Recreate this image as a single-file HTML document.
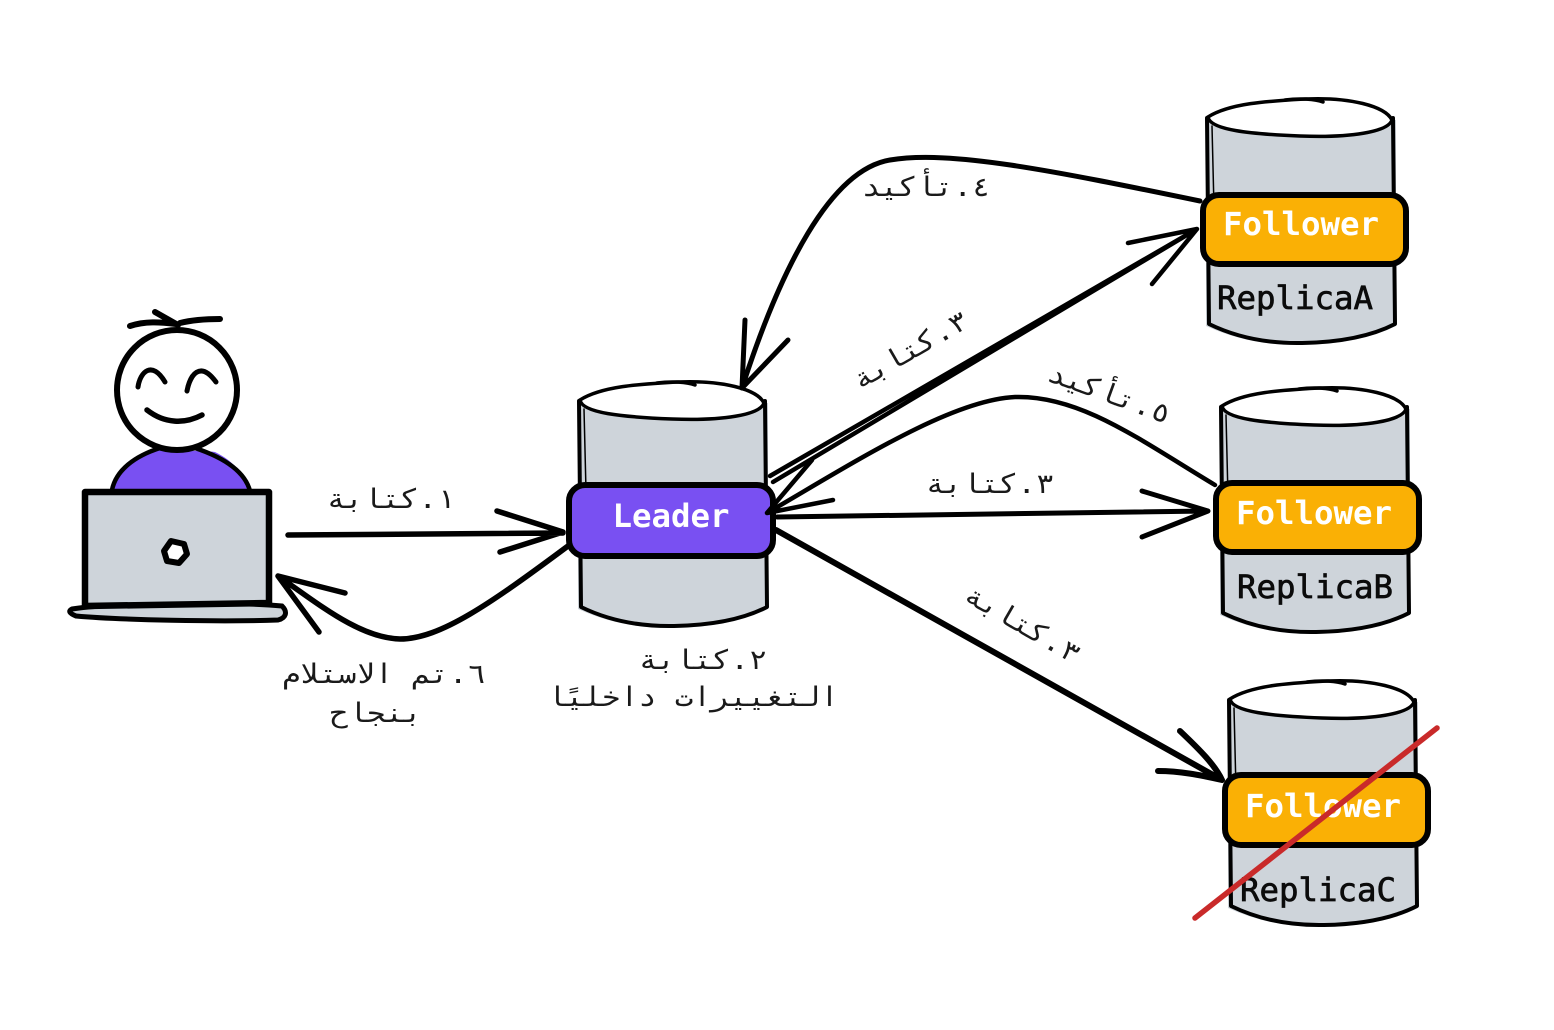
<!DOCTYPE html>
<html><head><meta charset="utf-8"><style>
html,body{margin:0;padding:0;background:#fff}
svg{display:block}
.ar{font-family:"DejaVu Sans Mono","Liberation Mono",monospace;font-size:27px;fill:#1a1a1a;text-anchor:middle;direction:rtl}
.en{font-family:"DejaVu Sans Mono","Liberation Mono",monospace;font-size:32.4px;text-anchor:middle}
.w{fill:#fff;font-weight:bold}
.k{fill:#0b0b0b;font-weight:normal;stroke:#0b0b0b;stroke-width:.7px}
.l{fill:none;stroke:#000;stroke-linecap:round;stroke-linejoin:round}
</style></head><body>
<svg width="1554" height="1030" viewBox="0 0 1554 1030" xmlns="http://www.w3.org/2000/svg">
<rect width="1554" height="1030" fill="#fff"/>
<defs>
<g id="cyl">
<path d="M-94 2V208Q-50 228 2 227Q60 226 96 208V2Z" fill="#ced4da"/>
<path class="l" stroke-width="4" d="M-93 0L-91 206Q-50 226 2 225Q60 224 95 206L93 0"/>
<path class="l" stroke-width="1.5" d="M-88 8L-86 90"/>
<path d="M-92 -1C-70 -15 -30 -17 5 -19C50 -21 85 -12 92 2C88 14 50 20 0 18C-50 16 -90 12 -92 -1Z" fill="#fff" stroke="#000" stroke-width="3.5"/>
<path class="l" stroke-width="3.5" d="M-15 -18C0 -20 15 -19 23 -16"/>
</g>
</defs>

<!-- cylinders -->
<use href="#cyl" x="1300" y="118"/>
<use href="#cyl" x="1314" y="407"/>
<use href="#cyl" x="1322" y="700"/>
<use href="#cyl" x="672" y="401"/>

<!-- bands -->
<rect x="1203" y="195" width="203" height="69" rx="16" fill="#fab005" stroke="#000" stroke-width="6"/>
<rect x="1216" y="483" width="203" height="69" rx="16" fill="#fab005" stroke="#000" stroke-width="6"/>
<rect x="1225" y="775" width="203" height="70" rx="16" fill="#fab005" stroke="#000" stroke-width="6"/>
<rect x="569" y="485" width="204" height="71" rx="16" fill="#7950f2" stroke="#000" stroke-width="6"/>

<!-- node labels -->
<text class="en w" x="1301" y="235">Follower</text>
<text class="en w" x="1314" y="524">Follower</text>
<text class="en w" x="1323" y="817">Follower</text>
<text class="en w" x="671" y="527">Leader</text>
<text class="en k" x="1295" y="309">ReplicaA</text>
<text class="en k" x="1315" y="598">ReplicaB</text>
<text class="en k" x="1318" y="901">ReplicaC</text>

<!-- person -->
<path d="M112 490C116 470 135 456 160 448C180 452 200 450 215 452C235 462 245 475 248 490Z" fill="#7950f2"/>
<path class="l" stroke-width="4.5" d="M112 490C116 470 135 456 160 448M195 448C225 458 245 472 250 491"/>
<ellipse cx="177" cy="390" rx="60" ry="60" fill="#fff" stroke="#000" stroke-width="6"/>
<path class="l" stroke-width="6" d="M130 326C145 321 160 322 176 324M155 312L178 325M180 323C192 320 205 319 220 319"/>
<path class="l" stroke-width="5" d="M138 387C140 372 152 360 165 382M187 391C190 375 200 360 216 382"/>
<path class="l" stroke-width="5.5" d="M147 410C165 424 185 424 202 415"/>

<!-- laptop -->
<path d="M72 609C120 602 240 602 282 606C288 612 286 618 278 620C220 622 120 620 76 616Q66 612 72 609Z" fill="#ced4da" stroke="#000" stroke-width="5"/>
<path d="M85 492H269V603L85 606Z" fill="#ced4da" stroke="#000" stroke-width="6.5" stroke-linejoin="round"/>
<path d="M171 541L184 544L187 554L179 563L167 561L164 551Z" fill="#fff" stroke="#000" stroke-width="6" stroke-linejoin="round"/>

<!-- connectors -->
<g class="l">
<path stroke-width="5.5" d="M288 535L563 533M497 511L563 532L500 552"/>
<path stroke-width="5.5" d="M568 546C490 604 440 639 400 639C360 638 320 605 278 576M345 593L278 576L319 632"/>
<path stroke-width="5" d="M1200 201C1050 170 950 150 890 160C830 170 780 270 742 388M745 320L742 388L788 340"/>
<path stroke-width="4.5" d="M770 476L1197 229M773 482L1197 229M1128 243L1197 229L1152 284"/>
<path stroke-width="4.5" d="M1215 485C1140 440 1080 395 1015 397C950 400 850 465 767 513M812 460L767 513L833 500"/>
<path stroke-width="5" d="M777 517L1208 511M1142 491L1208 511L1142 537"/>
<path stroke-width="6" d="M776 530L1222 780M1180 731C1200 750 1215 765 1222 780C1200 775 1180 771 1158 771"/>
</g>
<path d="M1195 918L1437 728" fill="none" stroke="#c92a2a" stroke-width="5.5" stroke-linecap="round"/>

<!-- edge labels -->
<text class="ar" transform="translate(391 508) scale(1.13 1)">١.كتابة</text>
<text class="ar" transform="translate(926 196) scale(1.13 1)">٤.تأكيد</text>
<text class="ar" transform="translate(915 358) rotate(-30) scale(1.13 1)">٣.كتابة</text>
<text class="ar" transform="translate(1106 402) rotate(20) scale(1.13 1)">٥.تأكيد</text>
<text class="ar" transform="translate(990 493) scale(1.13 1)">٣.كتابة</text>
<text class="ar" transform="translate(1018 632) rotate(30) scale(1.13 1)">٣.كتابة</text>
<text class="ar" transform="translate(384 683) scale(1.14 1)">٦.تم الاستلام</text>
<text class="ar" transform="translate(376 722) scale(1.14 1)">بنجاح</text>
<text class="ar" transform="translate(703 669) scale(1.13 1)">٢.كتابة</text>
<text class="ar" transform="translate(693 706) scale(1.12 1)">التغييرات داخليًا</text>
</svg>
</body></html>
